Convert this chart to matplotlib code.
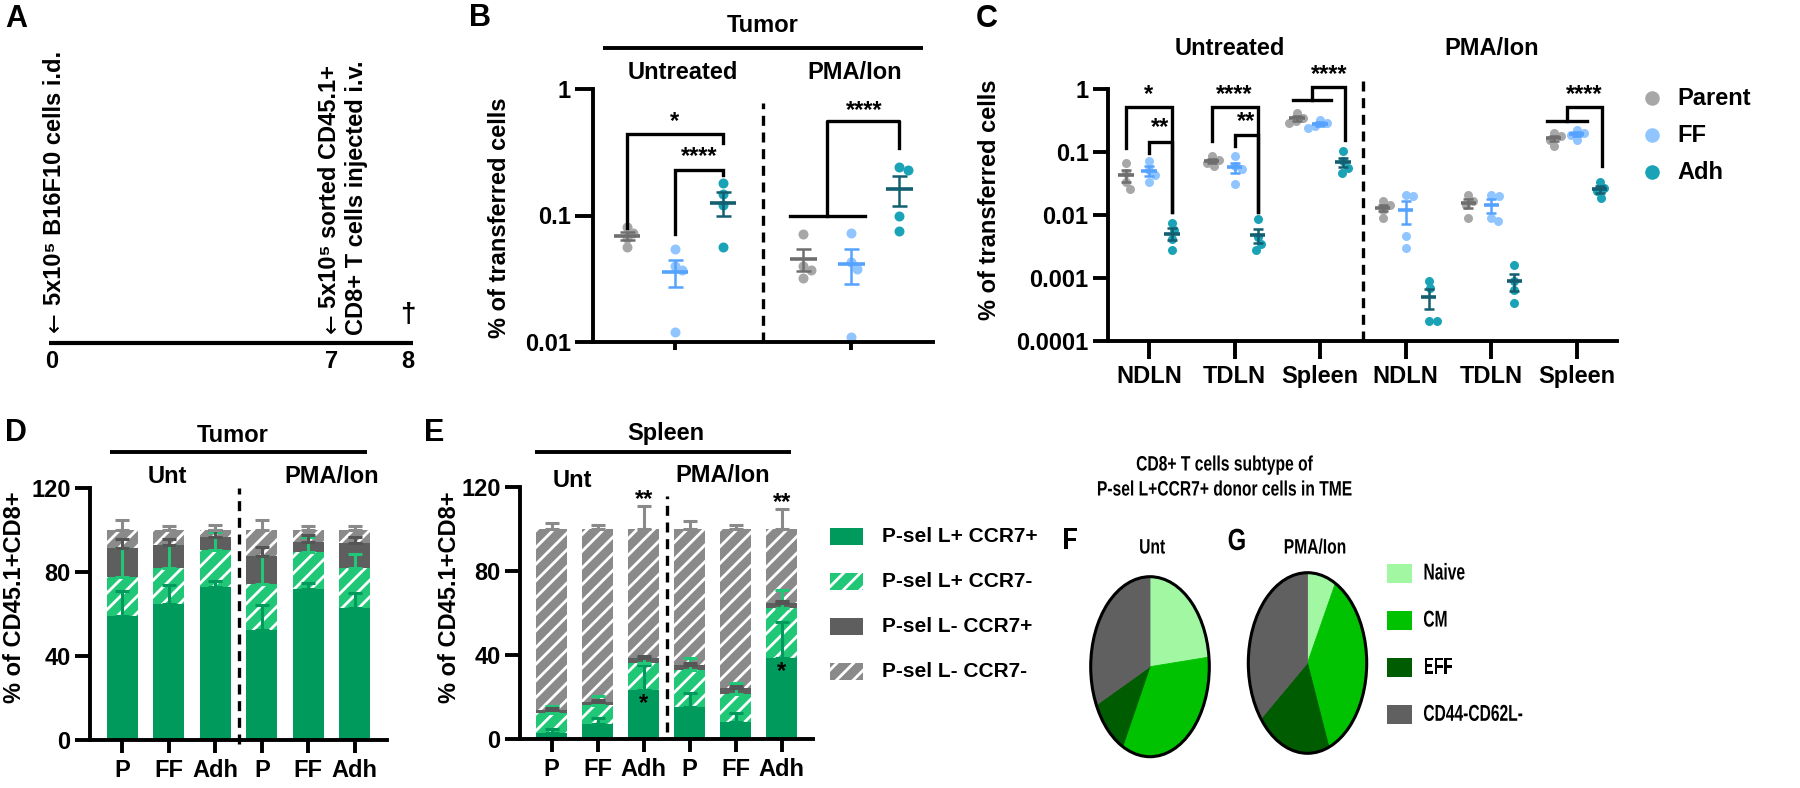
import numpy as np
import matplotlib
matplotlib.use("Agg")
import matplotlib.pyplot as plt
from matplotlib.patches import Rectangle, Circle
from matplotlib.patheffects import AbstractPathEffect
from matplotlib.transforms import Affine2D

W, H = 1800, 788
FONT = ["Liberation Sans", "DejaVu Sans"]

plt.rcParams["font.family"] = FONT
plt.rcParams["font.weight"] = "bold"
plt.rcParams["axes.linewidth"] = 2.8
plt.rcParams["hatch.linewidth"] = 2.0
plt.rcParams["hatch.color"] = "white"

# ---------------- data ----------------
# A: timeline
TIMELINE_DAYS = [0, 7, 8]
EVENT_DAYS = [0, 7]
EVENT_LINES = [["5x10\u2075 B16F10 cells i.d."],
               ["5x10\u2075 sorted CD45.1+", "CD8+ T cells injected i.v."]]

# B: tumor, % of transferred cells (n=4 mice per group)
B_CONDITIONS = ["Untreated", "PMA/Ion"]
B_PARENT = [[0.081, 0.073, 0.066, 0.056], [0.072, 0.040, 0.037, 0.032]]
B_FF = [[0.054, 0.040, 0.037, 0.012], [0.073, 0.043, 0.038, 0.011]]
B_ADH = [[0.180, 0.149, 0.120, 0.056], [0.240, 0.230, 0.100, 0.075]]

# C: lymph nodes / spleen
C_CONDITIONS = ["Untreated", "PMA/Ion"]
C_TISSUES = ["NDLN", "TDLN", "Spleen", "NDLN", "TDLN", "Spleen"]
C_PARENT = [[0.068, 0.046, 0.033, 0.026], [0.085, 0.075, 0.067, 0.059],
            [0.417, 0.347, 0.308, 0.290], [0.0165, 0.0146, 0.0121, 0.0090],
            [0.0208, 0.0165, 0.0146, 0.0090], [0.200, 0.177, 0.157, 0.123]]
C_FF = [[0.073, 0.0525, 0.0437, 0.033], [0.085, 0.059, 0.053, 0.031],
        [0.326, 0.289, 0.261, 0.240], [0.021, 0.0197, 0.0046, 0.0030],
        [0.0208, 0.0197, 0.0090, 0.0079], [0.226, 0.200, 0.188, 0.157]]
C_ADH = [[0.0076, 0.0058, 0.0041, 0.0028], [0.0085, 0.0045, 0.0035, 0.0028],
         [0.102, 0.071, 0.056, 0.047], [0.00091, 0.00069, 0.000204, 0.000204],
         [0.0016, 0.0009, 0.00065, 0.0004], [0.034, 0.027, 0.0237, 0.0186]]
SERIES = ["Parent", "FF", "Adh"]

# D/E: stacked subsets (mean, SEM) for P, FF, Adh x Unt, PMA/Ion
BAR_LABELS = ["P", "FF", "Adh", "P", "FF", "Adh"]
SUBSETS = ["P-sel L+ CCR7+", "P-sel L+ CCR7-", "P-sel L- CCR7+", "P-sel L- CCR7-"]
D_MEAN = [[59.0, 65.0, 73.0, 52.5, 72.0, 63.0],
          [18.6, 17.2, 17.6, 21.9, 17.5, 18.9],
          [14.1, 10.8, 6.4, 13.5, 5.1, 11.9],
          [8.3, 7.0, 3.0, 12.1, 5.4, 6.2]]
D_SEM = [[12.0, 9.0, 3.0, 12.0, 3.0, 7.0],
         [14.0, 10.8, 8.4, 13.5, 7.5, 6.8],
         [4.0, 3.0, 3.0, 4.0, 3.0, 3.0],
         [5.0, 2.2, 2.5, 5.0, 2.2, 2.2]]
E_MEAN = [[3.0, 7.1, 23.5, 15.5, 8.1, 38.6],
          [9.7, 9.3, 12.7, 17.5, 13.4, 23.9],
          [1.3, 1.5, 2.4, 2.4, 3.1, 2.4],
          [86.0, 82.1, 61.4, 64.6, 75.4, 35.1]]
E_SEM = [[2.0, 3.0, 12.0, 6.4, 4.3, 17.2],
         [3.2, 4.2, 2.4, 5.6, 5.2, 8.7],
         [1.0, 1.0, 1.0, 1.0, 1.0, 1.0],
         [3.0, 2.2, 11.0, 4.0, 2.0, 9.7]]
E_SIG_TOP = ["", "", "**", "", "", "**"]
E_SIG_BASE = ["", "", "*", "", "", "*"]

# F/G: subtypes of P-sel L+CCR7+ donor cells in TME (%)
SUBTYPES = ["Naive", "CM", "EFF", "CD44-CD62L-"]
F_UNT = [23.3, 34.3, 10.4, 32.0]
G_PMA = [7.8, 36.3, 20.3, 35.6]

# ---------------- styles ----------------
DOT_COL = ["#a7a7a7", "#90c5ff", "#1aa3b6"]
LINE_COL = ["#6e6e6e", "#55a2ff", "#135e70"]
SEG_COL = ["#009a5c", "#20c777", "#5e5e5e", "#8a8a8a"]
SEG_ERR = ["#009a5c", "#20c777", "#555555", "#8a8a8a"]
SEG_HATCH = [None, "//", None, "//"]
PIE_COL = ["#a2f7a2", "#00c200", "#005c00", "#606060"]
FS = 17


class Squeeze(AbstractPathEffect):
    """Draw text horizontally compressed (the F/G panels use a squeezed font)."""

    def __init__(self, sx, anchor="center"):
        super().__init__()
        self.sx = sx
        self.anchor = anchor

    def draw_path(self, renderer, gc, tpath, affine, rgbFace=None):
        ext = tpath.get_extents()
        x0 = (ext.x0 + ext.x1) / 2 if self.anchor == "center" else ext.x0
        aff = Affine2D().translate(-x0, 0).scale(self.sx, 1).translate(x0, 0) + affine
        renderer.draw_path(gc, tpath, aff, rgbFace)


fig = plt.figure(figsize=(W / 100, H / 100), dpi=100)
ov = fig.add_axes([0, 0, 1, 1], zorder=5)
ov.set_xlim(0, W)
ov.set_ylim(H, 0)
ov.axis("off")


def px_axes(l, t, r, b):
    return fig.add_axes([l / W, 1 - b / H, (r - l) / W, (b - t) / H])


def title(x, y, s, size=FS, **kw):
    ov.text(x, y, s, fontsize=size, ha="center", va="center", **kw)


def hline(x0, x1, y):
    ov.plot([x0, x1], [y, y], color="black", lw=2.8, solid_capstyle="butt")


def style_axes(ax, ylen, xlen):
    for s in ["top", "right"]:
        ax.spines[s].set_visible(False)
    ax.tick_params(axis="y", length=ylen, width=2.8, labelsize=FS, pad=3)
    ax.tick_params(axis="x", length=xlen, width=2.8, labelsize=FS, pad=4)
    ax.minorticks_off()


def swarm(ypx, d):
    xs = np.zeros(len(ypx))
    placed = []
    cands = [0.0]
    for k in range(1, 100):
        cands += [k * 0.5, -k * 0.5]
    for i in np.argsort(ypx)[::-1]:
        for cx in cands:
            if all((cx - px) ** 2 + (ypx[i] - py) ** 2 >= (0.85 * d) ** 2 for px, py in placed):
                break
        xs[i] = cx
        placed.append((cx, ypx[i]))
    return xs


def dot_panel(ax, centres, series, unit_px, decade_px, dot_px, mean_half, cap):
    for gi, gx in enumerate(centres):
        for si, vals_all in enumerate(series):
            vals = np.array(vals_all[gi])
            cx = gx + (si - 1)
            xs = cx + swarm(np.log10(vals) * decade_px, dot_px) / unit_px
            ax.scatter(xs, vals, s=(dot_px * 0.72) ** 2, color=DOT_COL[si], lw=0,
                       zorder=2, clip_on=False)
            m = vals.mean()
            sem = vals.std(ddof=1) / np.sqrt(len(vals))
            ax.hlines(m, cx - mean_half, cx + mean_half, color=LINE_COL[si], lw=2.6, zorder=3)
            ax.errorbar(cx, m, yerr=sem, fmt="none", ecolor=LINE_COL[si], elinewidth=1.8,
                        capsize=cap, capthick=1.8, zorder=3)


def bracket(ax, xl, xr, ytop, yl, yr, label, ylab):
    ax.plot([xl, xl, xr, xr], [yl, ytop, ytop, yr], color="black", lw=2.4,
            clip_on=False, solid_joinstyle="miter")
    ax.text((xl + xr) / 2, ylab, label, ha="center", va="center", fontsize=FS, clip_on=False)


def group_bracket(ax, xa, xb, ybar, xr, ytop, yr, label, ylab):
    xs = (xa + xb) / 2
    ax.plot([xa, xb], [ybar, ybar], color="black", lw=2.4, clip_on=False)
    ax.plot([xs, xs, xr, xr], [ybar, ytop, ytop, yr], color="black", lw=2.4,
            clip_on=False, solid_joinstyle="miter")
    ax.text((xs + xr) / 2, ylab, label, ha="center", va="center", fontsize=FS, clip_on=False)


# ---------------- A ----------------
ax = px_axes(49, 330, 413, 356)
fwd = lambda d: d + 0.9 * np.clip(d - 7, 0, None)
inv = lambda u: np.where(u > 7, 7 + (u - 7) / 1.9, u)
ax.set_xscale("function", functions=(fwd, inv))
ax.set_xlim(-0.075, 8.066)
ax.set_ylim(-1, 1)
ax.axis("off")
ax.axhline(0, color="black", lw=3, solid_capstyle="butt")
for d in TIMELINE_DAYS:
    ax.annotate(str(d), (d, 0), xytext=(0, -19), textcoords="offset pixels",
                ha="center", va="center", fontsize=FS)
# (arrow offset, first-line offset) in pixels for each event
arrow_off = [(3, 11), (0, 10)]
line_off = [[(3, 38)], [(-2, 35), (25, 8)]]
for d, lines, aoff, loffs in zip(EVENT_DAYS, EVENT_LINES, arrow_off, line_off):
    ax.annotate("\u2190", (d, 0), xytext=aoff, textcoords="offset pixels", rotation=90,
                ha="center", va="bottom", fontsize=FS, family="DejaVu Sans", weight="normal")
    for s, off in zip(lines, loffs):
        ax.annotate(s, (d, 0), xytext=off, textcoords="offset pixels",
                    rotation=90, ha="center", va="bottom", fontsize=FS)
ax.annotate("\u2020", (TIMELINE_DAYS[-1], 0), xytext=(0, 28), textcoords="offset pixels",
            ha="center", va="center", fontsize=20)

# ---------------- B ----------------
ax = px_axes(593, 89, 933, 342)
b_centres = [0, 3.67]
dot_panel(ax, b_centres, [B_PARENT, B_FF, B_ADH], 48, 126, 10, 0.28, 5.4)
ax.set_yscale("log")
ax.set_ylim(0.01, 1)
ax.set_xlim(-1.708, 5.375)
ax.set_yticks([0.01, 0.1, 1])
ax.set_yticklabels(["0.01", "0.1", "1"])
ax.set_xticks(b_centres)
ax.set_xticklabels([])
style_axes(ax, 13, 6)
ax.vlines((b_centres[0] + 1 + b_centres[1] - 1) / 2, 0.01, 0.77, color="black", lw=2.4,
          linestyles=(0, (3, 2)), clip_on=False)
bracket(ax, -1, 1, 0.44, 0.080, 0.372, "*", 0.55)
bracket(ax, 0, 1, 0.228, 0.072, 0.208, "****", 0.294)
ax.plot([b_centres[1] - 1.27, b_centres[1] + 0.29], [0.1, 0.1], color="black", lw=2.4)
ax.plot([b_centres[1] - 0.5, b_centres[1] - 0.5, b_centres[1] + 1, b_centres[1] + 1],
        [0.1, 0.557, 0.557, 0.34], color="black", lw=2.4, clip_on=False)
ax.text(b_centres[1] + 0.27, 0.68, "****", ha="center", va="center", fontsize=FS)
title(763, 25, "Tumor")
hline(603, 923, 48)
title(683, 72, B_CONDITIONS[0])
title(855, 72, B_CONDITIONS[1])
ov.text(500, 218, "% of transferred cells", rotation=90, ha="center", va="center", fontsize=FS)

# ---------------- C ----------------
ax = px_axes(1108, 89, 1617, 341)
c_centres = [i * 3.72 for i in range(len(C_TISSUES))]
dot_panel(ax, c_centres, [C_PARENT, C_FF, C_ADH], 23, 63, 9, 0.33, 3.4)
ax.set_yscale("log")
ax.set_ylim(1e-4, 1)
ax.set_xlim(-1.78, 20.35)
ax.set_yticks([1e-4, 1e-3, 1e-2, 1e-1, 1])
ax.set_yticklabels(["0.0001", "0.001", "0.01", "0.1", "1"])
ax.set_xticks(c_centres)
ax.set_xticklabels(C_TISSUES)
style_axes(ax, 11, 13)
ax.vlines((c_centres[2] + c_centres[3]) / 2, 1e-4, 1.69, color="black", lw=2.4,
          linestyles=(0, (3, 2)), clip_on=False)
g = c_centres
bracket(ax, g[0] - 1, g[0] + 1, 0.518, 0.117, 0.0113, "*", 0.81)
bracket(ax, g[0], g[0] + 1, 0.142, 0.0975, 0.0113, "**", 0.243)
bracket(ax, g[1] - 1, g[1] + 1, 0.518, 0.147, 0.0113, "****", 0.81)
bracket(ax, g[1], g[1] + 1, 0.188, 0.123, 0.0113, "**", 0.30)
group_bracket(ax, g[2] - 1.17, g[2] + 0.48, 0.659, g[2] + 1.1, 1.076, 0.157, "****", 1.69)
group_bracket(ax, g[5] - 1.3, g[5] + 0.43, 0.306, g[5] + 1.09, 0.518, 0.059, "****", 0.81)
title(1230, 48, C_CONDITIONS[0])
title(1492, 48, C_CONDITIONS[1])
ov.text(990, 200, "% of transferred cells", rotation=90, ha="center", va="center", fontsize=FS)
for i, name in enumerate(SERIES):
    y = 98 + i * 37
    ov.scatter(1652, y, s=110, color=DOT_COL[i], lw=0)
    ov.text(1677, y, name, ha="left", va="center", fontsize=FS)


# ---------------- D / E ----------------
def stacked(ax, means, sems, sig_top=None, sig_base=None):
    pos = np.arange(len(BAR_LABELS))
    bottom = np.zeros(len(pos))
    for k in range(len(means)):
        seg = np.array(means[k])
        ax.bar(pos, seg, 0.67, bottom=bottom, color=SEG_COL[k], hatch=SEG_HATCH[k],
               edgecolor="white" if SEG_HATCH[k] else SEG_COL[k], lw=0, zorder=2)
        top = bottom + seg
        ax.errorbar(pos, top, yerr=[np.zeros(len(pos)), sems[k]], fmt="none",
                    ecolor=SEG_ERR[k], elinewidth=2.2, capsize=5, capthick=2.2, zorder=3)
        if k == 0:
            base_top = top.copy()
        bottom = top
    if sig_top:
        tops = bottom + np.array(sems[-1])
        for p, s, t in zip(pos, sig_top, tops):
            if s:
                ax.annotate(s, (p, t), xytext=(0, -5), textcoords="offset pixels",
                            ha="center", va="bottom", fontsize=FS, annotation_clip=False)
        for p, s, t in zip(pos, sig_base, base_top):
            if s:
                ax.annotate(s, (p, t), xytext=(0, -2), textcoords="offset pixels",
                            ha="center", va="top", fontsize=FS)
    ax.set_ylim(0, 120)
    ax.set_xlim(-0.69, 5.69)
    ax.set_yticks([0, 40, 80, 120])
    ax.set_xticks(pos)
    ax.set_xticklabels(BAR_LABELS)
    style_axes(ax, 11, 9.5)
    return pos


ax = px_axes(90, 488.3, 387, 740)
pos = stacked(ax, D_MEAN, D_SEM)
ax.vlines(2.5, -2, 120, color="black", lw=2.4, linestyles=(0, (3, 2)), clip_on=False)
title(233, 435, "Tumor")
hline(110, 367, 452)
title(167, 476, "Unt")
title(332, 476, "PMA/Ion")
ov.text(15, 597, "% of CD45.1+CD8+", rotation=90, ha="center", va="center", fontsize=FS)

ax = px_axes(520, 487.3, 813.3, 739.3)
stacked(ax, E_MEAN, E_SEM, E_SIG_TOP, E_SIG_BASE)
ax.vlines(2.5, 3.6, 116, color="black", lw=2.4, linestyles=(0, (3, 2)), clip_on=False)
title(666, 433, "Spleen")
hline(535, 791, 452)
title(572, 480, "Unt")
title(723, 475, "PMA/Ion")
ov.text(450, 597, "% of CD45.1+CD8+", rotation=90, ha="center", va="center", fontsize=FS)

for i, name in enumerate(SUBSETS):
    y = 536.7 + i * 44.8
    ov.add_patch(Rectangle((830, y - 8.5), 33, 17, facecolor=SEG_COL[i], hatch=SEG_HATCH[i],
                           edgecolor="white" if SEG_HATCH[i] else SEG_COL[i], lw=0))
    ov.text(882, y, name, ha="left", va="center", fontsize=15)


# ---------------- F / G ----------------
def pie(l, t, r, b, vals):
    ax = px_axes(l, t, r, b)
    wedges, _ = ax.pie(vals, colors=PIE_COL, startangle=90, counterclock=False, radius=1)
    for w in wedges:
        w.set_edgecolor(w.get_facecolor())
        w.set_linewidth(0.6)
    ax.set_aspect("auto")
    ax.set_xlim(-1, 1)
    ax.set_ylim(-1, 1)
    ax.add_patch(Circle((0, 0), 1, fill=False, lw=2.2, ec="black", clip_on=False))
    ax.axis("off")


pie(1090.7, 576.7, 1209.3, 756.7, F_UNT)
pie(1248.3, 572.7, 1366.7, 753.3, G_PMA)
sq = [Squeeze(0.75)]
ov.text(1225, 477.5, "CD8+ T cells subtype of\nP-sel L+CCR7+ donor cells in TME",
        ha="center", va="center", fontsize=15, linespacing=1.4, path_effects=sq)
title(1152, 548, "Unt", size=15, path_effects=sq)
title(1315, 548, "PMA/Ion", size=15, path_effects=sq)
for i, name in enumerate(SUBTYPES):
    y = 573 + i * 47.1
    ov.add_patch(Rectangle((1387, y - 9.5), 25, 19, facecolor=PIE_COL[i], lw=0))
    ov.text(1423, y, name, ha="left", va="center", fontsize=16.5,
            path_effects=[Squeeze(0.68, anchor="left")])

# ---------------- panel letters ----------------
for x, y, s in [(16, 19, "A"), (480, 18, "B"), (987, 19, "C"), (16, 433, "D"), (434, 433, "E")]:
    ov.text(x, y, s, fontsize=22, ha="center", va="center")
ov.text(1070, 541, "F", fontsize=22, ha="center", va="center", path_effects=[Squeeze(0.78)])
ov.text(1237, 542, "G", fontsize=22, ha="center", va="center", path_effects=[Squeeze(0.78)])

fig.savefig("out.png", dpi=100)
